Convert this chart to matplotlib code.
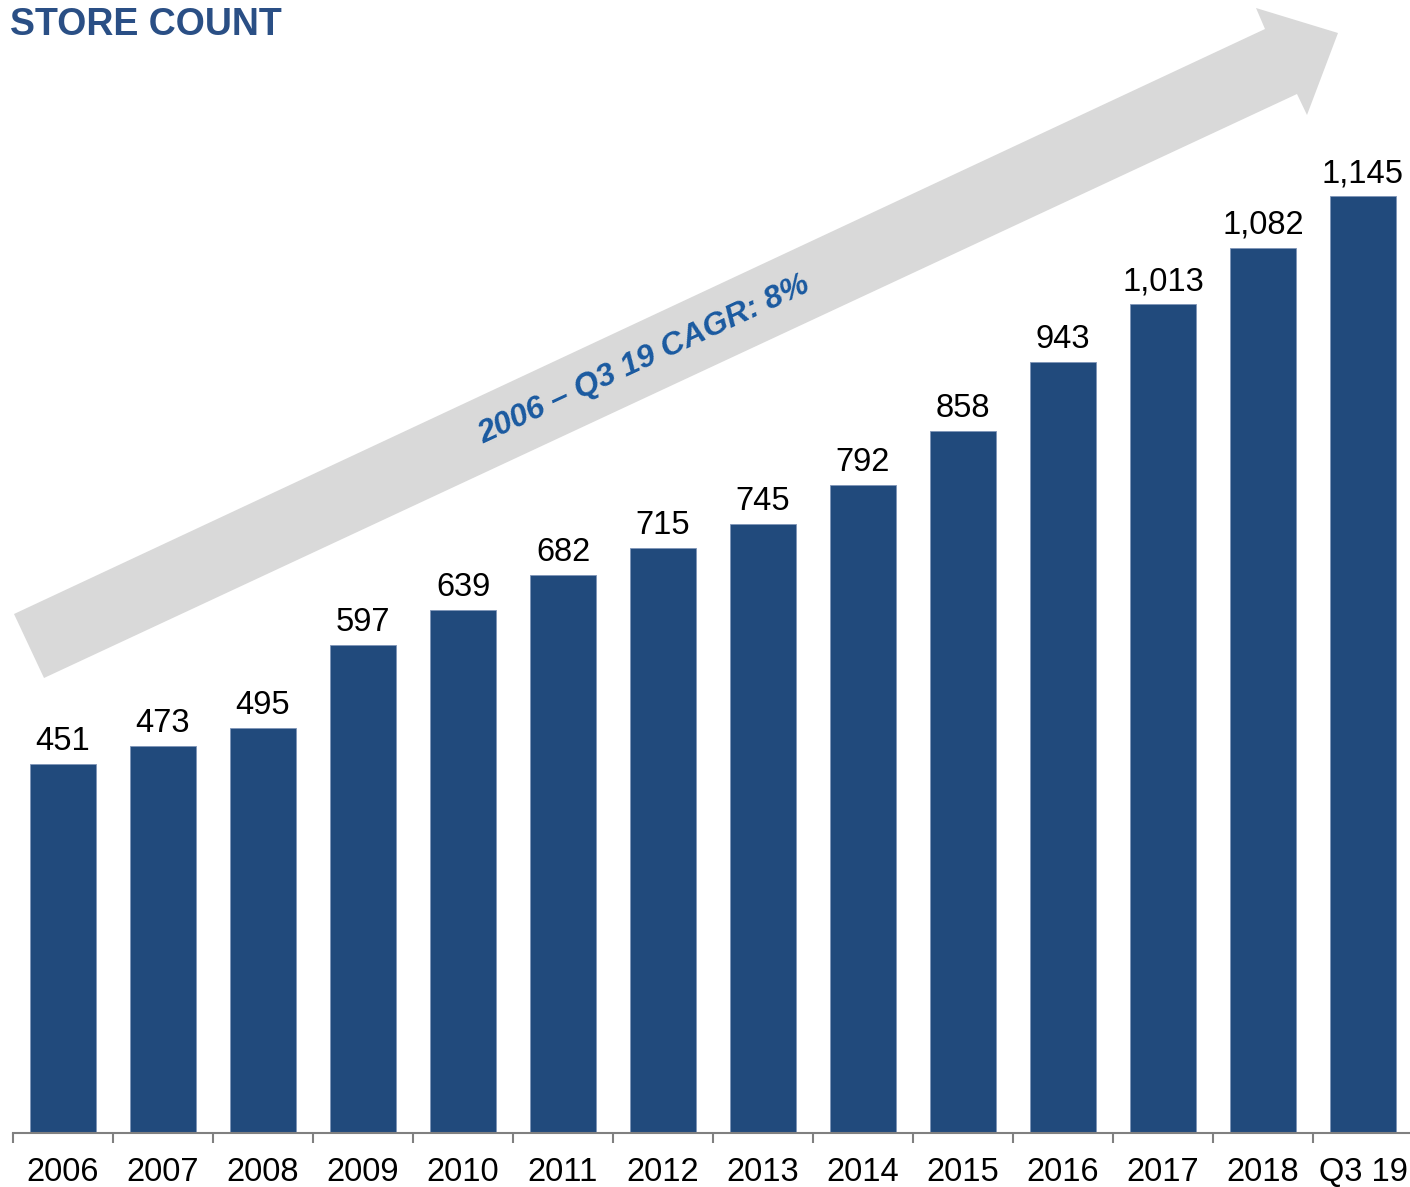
import numpy as np
import matplotlib
matplotlib.use('Agg')
import matplotlib.pyplot as plt
from matplotlib.patches import Polygon

plt.rcParams['font.family'] = ['Liberation Sans', 'DejaVu Sans']

# data
years = ['2006', '2007', '2008', '2009', '2010', '2011', '2012', '2013',
         '2014', '2015', '2016', '2017', '2018', 'Q3 19']
stores = [451, 473, 495, 597, 639, 682, 715, 745, 792, 858, 943, 1013, 1082, 1145]
labels = ['451', '473', '495', '597', '639', '682', '715', '745', '792', '858',
          '943', '1,013', '1,082', '1,145']

W, H = 1410, 1187
fig = plt.figure(figsize=(W/100, H/100), dpi=100)

def px(x, y):
    # pixel (from top-left) -> figure fraction
    return (x / W, 1 - y / H)

# big grey growth arrow behind everything
arrow_pts = [px(14, 614), px(1265, 29), px(1256, 8), px(1338, 33),
             px(1307, 115), px(1297, 94), px(44, 678)]
fig.patches.append(Polygon(arrow_pts, closed=True, transform=fig.transFigure,
                           facecolor='#d9d9d9', edgecolor='none', zorder=0))

ax = fig.add_axes([13/W, (H - 1133)/H, 1400/W, 1133/H])
ax.patch.set_alpha(0)

x = np.arange(len(years))
bars = ax.bar(x, stores, width=0.66, color='#214a7c', edgecolor='#7f95b8',
              linewidth=0.6, zorder=2)
for b, lab in zip(bars, labels):
    ax.annotate(lab, (b.get_x() + b.get_width()/2, b.get_height()),
                xytext=(0, 5), textcoords='offset points',
                ha='center', va='bottom', fontsize=23.5, color='black')

ax.set_xlim(-0.5, len(years) - 0.5)
ax.set_ylim(0, 1385)

for s in ['top', 'right', 'left']:
    ax.spines[s].set_visible(False)
ax.spines['bottom'].set_color('#808080')
ax.spines['bottom'].set_linewidth(1.5)
ax.set_yticks([])

ax.set_xticks(x)
ax.set_xticklabels(years, fontsize=23.5)
ax.set_xticks(np.arange(-0.5, len(years)), minor=True)
ax.tick_params(axis='x', which='major', length=0, pad=17)
ax.tick_params(axis='x', which='minor', length=7, width=1.5, color='#808080')

fig.text(*px(10, 35), 'STORE COUNT', fontsize=27, fontweight='bold',
         color='#2a4f85', ha='left', va='baseline')

fig.text(*px(644, 360), '2006 \u2013 Q3 19 CAGR: 8%', fontsize=23,
         fontweight='bold', fontstyle='italic', color='#1a5aa0',
         rotation=25, rotation_mode='anchor', ha='center', va='center')

fig.savefig('out.png', dpi=100)
